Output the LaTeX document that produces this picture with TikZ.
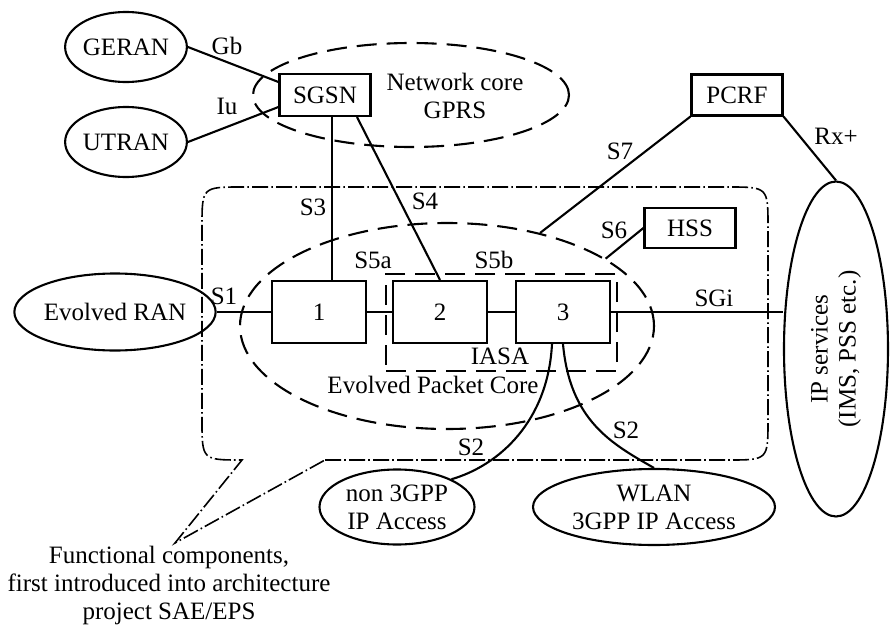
\documentclass[tikz,border=0pt]{standalone}
\usepackage{fontspec}
\setmainfont{Liberation Serif}
\usetikzlibrary{shapes.geometric}
\begin{document}
\begin{tikzpicture}[x=0.5pt,y=-0.5pt, line width=1.05pt,
  font=\fontsize{12.5}{14}\selectfont,
  ell/.style={draw, ellipse, inner sep=0pt, align=center},
  box/.style={draw, rectangle, inner sep=0pt},
  lbl/.style={inner sep=0pt, align=center},
  longdash/.style={dash pattern=on 10pt off 5pt},
  dashdot/.style={line width=0.8pt, dash pattern=on 8pt off 1.6pt on 0.8pt off 1.6pt}]
\useasboundingbox (0,0) rectangle (891,627);

% region of functional components (callout)
\draw[dashdot] (325,460) -- (728,460) .. controls (768,460) .. (768,420)
  -- (768,227) .. controls (768,187) .. (728,187)
  -- (242,187) .. controls (202,187) .. (202,227)
  -- (202,420) .. controls (202,460) .. (242,460)
  -- (175,543) -- cycle;

% ellipses
\node[ell, minimum width=58pt, minimum height=35pt] (geran) at (126,47) {GERAN};
\node[ell, minimum width=58pt, minimum height=35pt] (utran) at (126,142) {UTRAN};
\node[ell, longdash, minimum width=158pt, minimum height=52pt] (gprs) at (411,95) {};
\node[lbl] (gprstxt) at (455,96) {Network core\\GPRS};
\node[ell, longdash, minimum width=207pt, minimum height=103pt] (epc) at (447,326) {};
\node[ell, minimum width=78pt, minimum height=38.5pt] (eran) at (115,312) {Evolved RAN};
\node[ell, rotate=90, minimum width=167.5pt, minimum height=52pt] (ip) at (836,349) {IP services\\(IMS, PSS etc.)};
\node[ell, minimum width=77.5pt, minimum height=37.5pt] (n3) at (397,507) {non 3GPP\\IP Access};
\node[ell, minimum width=121pt, minimum height=38pt] (wlan) at (654,507) {WLAN\\3GPP IP Access};

% boxes
\node[box, minimum width=45.5pt, minimum height=21pt] (sgsn) at (325,95) {SGSN};
\node[box, minimum width=45.5pt, minimum height=20.5pt] (pcrf) at (737,95) {PCRF};
\node[box, minimum width=45.5pt, minimum height=20pt] (hss) at (690,228) {HSS};
\node[box, longdash, minimum width=115.5pt, minimum height=48.5pt] (iasa) at (501.5,322.5) {};
\node[box, minimum width=47pt, minimum height=31pt] (b1) at (319,312) {1};
\node[box, minimum width=47pt, minimum height=31pt] (b2) at (440,312) {2};
\node[box, minimum width=47pt, minimum height=31pt] (b3) at (563,312) {3};

% connectors
\draw (geran.east) -- ([yshift=6.5pt]sgsn.west);
\draw (utran.east) -- ([yshift=-6pt]sgsn.west);
\draw ([xshift=3.5pt]sgsn.south) -- ([xshift=3.5pt]sgsn.south |- b1.north);
\draw ([xshift=16pt]sgsn.south) -- (b2.north);
\draw (pcrf.south west) -- (epc.45);
\draw (pcrf.south east) -- (ip.east);
\draw (hss.west) -- (epc.23);
\draw (eran.east) -- (b1.west);
\draw (b1.east) -- (b2.west);
\draw (b2.east) -- (b3.west);
\draw (b3.east) -- (b3.east -| ip.north);
\draw ([xshift=-5.5pt]b3.south) .. controls +(-4,77) and +(48,-14) .. (n3.27);
\draw (b3.south) .. controls +(7,77) and +(-42,-24) .. (wlan.north);

% labels
\node[lbl] (lgb) at (227,46) {Gb};
\node[lbl] (liu) at (227,106) {Iu};
\node[lbl] (ls3) at (313,207) {S3};
\node[lbl] (ls4) at (425,201) {S4};
\node[lbl] (ls7) at (620,151) {S7};
\node[lbl] (lrx) at (836,136) {Rx+};
\node[lbl] (ls6) at (614,230) {S6};
\node[lbl] (ls5a) at (373,260) {S5a};
\node[lbl] (ls5b) at (494,260) {S5b};
\node[lbl] (ls1) at (224,296) {S1};
\node[lbl] (lsgi) at (714,298) {SGi};
\node[lbl] (liasa) at (500,356) {IASA};
\node[lbl] (lepc) at (433,385) {Evolved Packet Core};
\node[lbl] (ls2a) at (471,447) {S2};
\node[lbl] (ls2b) at (626,430) {S2};
\node[lbl] (lfc) at (169,585) {Functional components,\\first introduced into architecture\\project SAE/EPS};
\end{tikzpicture}
\end{document}
